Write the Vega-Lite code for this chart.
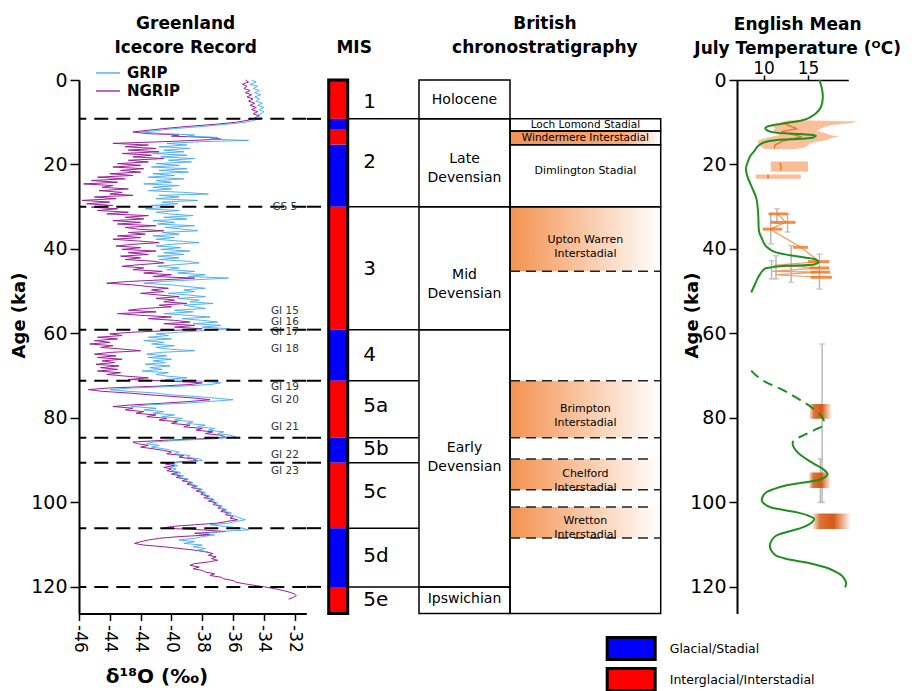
{
"$schema": "https://vega.github.io/schema/vega-lite/v6.json",
"padding": {"left": 10, "top": 15, "right": 5, "bottom": 0},
"spacing": 0,
"bounds": "flush",
"config": {
  "view": {"stroke": null},
  "font": "DejaVu Sans",
  "axis": {"domainColor": "black", "tickColor": "black", "labelColor": "black", "titleColor": "black", "grid": false, "labelFont": "DejaVu Sans", "titleFont": "DejaVu Sans"},
  "title": {"font": "DejaVu Sans", "fontWeight": "bold", "fontSize": 17, "color": "black", "lineHeight": 24}
},
"resolve": {"scale": {"color": "independent", "fill": "independent"}, "legend": {"color": "independent", "fill": "independent"}},
"datasets": {
  "grip": [
    {"age":0,"d":-34.8},{"age":0.5,"d":-34.5},{"age":1,"d":-34.9},{"age":1.5,"d":-34.4},{"age":2,"d":-34.7},{"age":2.5,"d":-34.3},{"age":3,"d":-34.6},{"age":3.5,"d":-34.2},{"age":4,"d":-34.6},{"age":4.5,"d":-34.3},{"age":5,"d":-34.5},{"age":5.5,"d":-34.1},{"age":6,"d":-34.4},{"age":6.5,"d":-34.0},{"age":7,"d":-34.3},{"age":7.5,"d":-34.0},{"age":8,"d":-34.2},{"age":8.5,"d":-34.5},{"age":9,"d":-34.1},{"age":9.5,"d":-34.6},{"age":10,"d":-35.2},{"age":10.5,"d":-36.5},{"age":11,"d":-38.0},{"age":11.5,"d":-39.8},{"age":12,"d":-41.0},{"age":12.3,"d":-42.0},{"age":12.7,"d":-40.5},{"age":13,"d":-38.5},{"age":13.3,"d":-39.0},{"age":13.6,"d":-37.0},{"age":14,"d":-37.5},{"age":14.3,"d":-35.0},{"age":14.6,"d":-38.0},{"age":15,"d":-40.3},{"age":15.4,"d":-39.0},{"age":15.8,"d":-40.8},{"age":16.2,"d":-38.8},{"age":16.6,"d":-40.5},{"age":17,"d":-39.2},{"age":17.4,"d":-41.2},{"age":17.8,"d":-39.0},{"age":18.2,"d":-40.7},{"age":18.6,"d":-38.5},{"age":19,"d":-40.2},{"age":19.4,"d":-38.7},{"age":19.8,"d":-41.0},{"age":20.2,"d":-39.5},{"age":20.6,"d":-41.3},{"age":21,"d":-39.0},{"age":21.4,"d":-40.8},{"age":21.8,"d":-38.9},{"age":22.2,"d":-41.2},{"age":22.6,"d":-39.8},{"age":23,"d":-41.5},{"age":23.4,"d":-39.2},{"age":23.8,"d":-41.0},{"age":24.2,"d":-40.0},{"age":24.6,"d":-41.8},{"age":25,"d":-39.5},{"age":25.4,"d":-41.2},{"age":25.8,"d":-40.0},{"age":26.2,"d":-41.5},{"age":26.6,"d":-39.2},{"age":27,"d":-37.6},{"age":27.3,"d":-40.8},{"age":27.7,"d":-39.5},{"age":28.1,"d":-41.0},{"age":28.5,"d":-38.3},{"age":28.9,"d":-40.6},{"age":29.3,"d":-39.6},{"age":29.7,"d":-41.3},{"age":30.1,"d":-40.0},{"age":30.5,"d":-41.7},{"age":30.9,"d":-39.5},{"age":31.3,"d":-41.0},{"age":31.7,"d":-40.2},{"age":32.1,"d":-38.6},{"age":32.5,"d":-40.5},{"age":32.9,"d":-39.0},{"age":33.3,"d":-41.2},{"age":33.7,"d":-39.8},{"age":34.1,"d":-40.9},{"age":34.5,"d":-38.5},{"age":34.9,"d":-40.4},{"age":35.3,"d":-39.3},{"age":35.7,"d":-38.3},{"age":36.1,"d":-40.6},{"age":36.5,"d":-39.5},{"age":36.9,"d":-41.2},{"age":37.3,"d":-39.8},{"age":37.7,"d":-41.0},{"age":38.1,"d":-39.6},{"age":38.5,"d":-38.2},{"age":38.9,"d":-40.0},{"age":39.3,"d":-41.0},{"age":39.7,"d":-39.4},{"age":40.1,"d":-40.7},{"age":40.5,"d":-38.8},{"age":40.9,"d":-40.5},{"age":41.3,"d":-39.2},{"age":41.7,"d":-40.9},{"age":42.1,"d":-39.5},{"age":42.5,"d":-40.8},{"age":42.9,"d":-39.0},{"age":43.3,"d":-38.2},{"age":43.7,"d":-39.6},{"age":44.1,"d":-40.9},{"age":44.5,"d":-39.5},{"age":44.9,"d":-40.3},{"age":45.3,"d":-38.5},{"age":45.7,"d":-39.6},{"age":46.1,"d":-37.8},{"age":46.5,"d":-38.9},{"age":46.9,"d":-36.3},{"age":47.3,"d":-38.5},{"age":47.7,"d":-40.6},{"age":48.1,"d":-41.8},{"age":48.5,"d":-40.0},{"age":48.9,"d":-39.0},{"age":49.3,"d":-37.8},{"age":49.7,"d":-39.2},{"age":50.1,"d":-38.5},{"age":50.5,"d":-40.2},{"age":50.9,"d":-38.9},{"age":51.3,"d":-37.8},{"age":51.7,"d":-39.6},{"age":52.1,"d":-38.2},{"age":52.5,"d":-38.8},{"age":52.9,"d":-37.3},{"age":53.3,"d":-39.2},{"age":53.7,"d":-38.5},{"age":54.1,"d":-37.8},{"age":54.5,"d":-39.8},{"age":54.9,"d":-38.6},{"age":55.3,"d":-40.5},{"age":55.7,"d":-39.0},{"age":56.1,"d":-37.5},{"age":56.5,"d":-39.3},{"age":56.9,"d":-38.0},{"age":57.3,"d":-37.0},{"age":57.7,"d":-38.6},{"age":58.1,"d":-36.8},{"age":58.5,"d":-38.0},{"age":58.9,"d":-36.2},{"age":59.3,"d":-37.8},{"age":59.7,"d":-39.5},{"age":60.1,"d":-41.0},{"age":60.5,"d":-40.2},{"age":60.9,"d":-41.5},{"age":61.3,"d":-40.0},{"age":61.7,"d":-41.8},{"age":62.1,"d":-40.5},{"age":62.5,"d":-41.3},{"age":62.9,"d":-39.8},{"age":63.3,"d":-41.0},{"age":63.7,"d":-40.2},{"age":64.1,"d":-38.5},{"age":64.5,"d":-40.8},{"age":64.9,"d":-41.6},{"age":65.3,"d":-40.3},{"age":65.7,"d":-41.5},{"age":66.1,"d":-40.0},{"age":66.5,"d":-41.2},{"age":66.9,"d":-40.4},{"age":67.3,"d":-41.7},{"age":67.7,"d":-40.1},{"age":68.1,"d":-41.4},{"age":68.5,"d":-40.6},{"age":68.9,"d":-41.9},{"age":69.3,"d":-40.2},{"age":69.7,"d":-41.0},{"age":70.1,"d":-40.3},{"age":70.5,"d":-39.0},{"age":70.9,"d":-40.4},{"age":71.3,"d":-38.0},{"age":71.7,"d":-36.8},{"age":72.1,"d":-37.5},{"age":72.5,"d":-39.5},{"age":72.9,"d":-42.5},{"age":73.3,"d":-44.0},{"age":73.7,"d":-42.8},{"age":74.1,"d":-41.0},{"age":74.5,"d":-40.2},{"age":74.9,"d":-38.5},{"age":75.3,"d":-37.2},{"age":75.7,"d":-36.0},{"age":76.1,"d":-37.5},{"age":76.5,"d":-39.0},{"age":76.9,"d":-41.5},{"age":77.3,"d":-42.6},{"age":77.7,"d":-41.0},{"age":78.1,"d":-41.8},{"age":78.5,"d":-40.5},{"age":78.9,"d":-41.2},{"age":79.3,"d":-39.8},{"age":79.7,"d":-40.6},{"age":80.1,"d":-39.3},{"age":80.5,"d":-39.8},{"age":80.9,"d":-38.6},{"age":81.3,"d":-39.0},{"age":81.7,"d":-37.8},{"age":82.1,"d":-38.3},{"age":82.5,"d":-37.2},{"age":82.9,"d":-37.6},{"age":83.3,"d":-36.6},{"age":83.7,"d":-37.0},{"age":84.1,"d":-36.2},{"age":84.5,"d":-35.8},{"age":84.9,"d":-37.0},{"age":85.3,"d":-39.5},{"age":85.7,"d":-41.2},{"age":86.1,"d":-41.6},{"age":86.5,"d":-40.8},{"age":86.9,"d":-41.3},{"age":87.3,"d":-40.5},{"age":87.7,"d":-40.0},{"age":88.1,"d":-39.5},{"age":88.5,"d":-39.8},{"age":88.9,"d":-38.8},{"age":89.3,"d":-39.0},{"age":89.7,"d":-38.2},{"age":90.1,"d":-38.0},{"age":90.5,"d":-39.5},{"age":90.9,"d":-40.0},{"age":91.3,"d":-39.6},{"age":91.7,"d":-40.1},{"age":92.1,"d":-39.7},{"age":92.5,"d":-40.0},{"age":92.9,"d":-39.4},{"age":93.3,"d":-39.8},{"age":93.7,"d":-39.2},{"age":94.1,"d":-39.5},{"age":94.5,"d":-38.9},{"age":94.9,"d":-39.1},{"age":95.3,"d":-38.6},{"age":95.7,"d":-38.8},{"age":96.1,"d":-38.3},{"age":96.5,"d":-38.5},{"age":96.9,"d":-38.0},{"age":97.3,"d":-38.2},{"age":97.7,"d":-37.8},{"age":98.1,"d":-37.9},{"age":98.5,"d":-37.5},{"age":98.9,"d":-37.7},{"age":99.3,"d":-37.2},{"age":99.7,"d":-37.4},{"age":100.1,"d":-37.0},{"age":100.5,"d":-37.1},{"age":100.9,"d":-36.7},{"age":101.3,"d":-36.9},{"age":101.7,"d":-36.4},{"age":102.1,"d":-36.6},{"age":102.5,"d":-36.1},{"age":102.9,"d":-36.3},{"age":103.3,"d":-35.8},{"age":103.7,"d":-35.6},{"age":104.1,"d":-35.2},{"age":104.5,"d":-35.8},{"age":104.9,"d":-36.3},{"age":105.3,"d":-37.5},{"age":105.7,"d":-36.5},{"age":106.1,"d":-35.4},{"age":106.5,"d":-35.0},{"age":106.9,"d":-37.0},{"age":107.3,"d":-37.8},{"age":107.7,"d":-37.2},{"age":108.1,"d":-38.0},{"age":108.5,"d":-38.5},{"age":108.9,"d":-39.5},{"age":109.3,"d":-38.5},{"age":109.7,"d":-39.2},{"age":110.1,"d":-38.0},{"age":110.5,"d":-38.6},{"age":110.9,"d":-37.8},{"age":111.3,"d":-38.3},{"age":111.7,"d":-37.6}
  ],
  "ngrip": [
    {"age":0,"d":-35.2},{"age":0.5,"d":-35.0},{"age":1,"d":-35.4},{"age":1.5,"d":-35.1},{"age":2,"d":-35.3},{"age":2.5,"d":-34.9},{"age":3,"d":-35.2},{"age":3.5,"d":-34.8},{"age":4,"d":-35.1},{"age":4.5,"d":-34.7},{"age":5,"d":-35.0},{"age":5.5,"d":-34.6},{"age":6,"d":-34.9},{"age":6.5,"d":-34.5},{"age":7,"d":-34.8},{"age":7.5,"d":-34.4},{"age":8,"d":-34.7},{"age":8.5,"d":-34.3},{"age":9,"d":-34.6},{"age":9.5,"d":-35.0},{"age":10,"d":-35.8},{"age":10.5,"d":-37.2},{"age":11,"d":-39.0},{"age":11.5,"d":-40.5},{"age":12,"d":-41.8},{"age":12.3,"d":-42.5},{"age":12.7,"d":-41.5},{"age":13,"d":-39.5},{"age":13.3,"d":-40.0},{"age":13.6,"d":-37.5},{"age":14,"d":-36.8},{"age":14.3,"d":-38.5},{"age":14.6,"d":-40.5},{"age":15,"d":-43.8},{"age":15.4,"d":-41.5},{"age":15.8,"d":-43.0},{"age":16.2,"d":-41.0},{"age":16.6,"d":-42.8},{"age":17,"d":-40.8},{"age":17.4,"d":-43.2},{"age":17.8,"d":-41.3},{"age":18.2,"d":-42.5},{"age":18.6,"d":-40.5},{"age":19,"d":-42.8},{"age":19.4,"d":-41.5},{"age":19.8,"d":-43.5},{"age":20.2,"d":-42.0},{"age":20.6,"d":-43.8},{"age":21,"d":-41.8},{"age":21.4,"d":-43.3},{"age":21.8,"d":-42.0},{"age":22.2,"d":-44.0},{"age":22.6,"d":-42.5},{"age":23,"d":-44.8},{"age":23.4,"d":-43.0},{"age":23.8,"d":-45.2},{"age":24.2,"d":-43.5},{"age":24.6,"d":-45.7},{"age":25,"d":-43.8},{"age":25.4,"d":-44.5},{"age":25.8,"d":-42.8},{"age":26.2,"d":-44.7},{"age":26.6,"d":-43.2},{"age":27,"d":-44.0},{"age":27.3,"d":-42.5},{"age":27.7,"d":-45.0},{"age":28.1,"d":-43.6},{"age":28.5,"d":-45.8},{"age":28.9,"d":-44.0},{"age":29.3,"d":-45.5},{"age":29.7,"d":-43.8},{"age":30.1,"d":-45.2},{"age":30.5,"d":-43.5},{"age":30.9,"d":-44.8},{"age":31.3,"d":-42.8},{"age":31.7,"d":-44.2},{"age":32.1,"d":-41.5},{"age":32.5,"d":-43.0},{"age":32.9,"d":-41.8},{"age":33.3,"d":-43.8},{"age":33.7,"d":-42.0},{"age":34.1,"d":-43.5},{"age":34.5,"d":-41.0},{"age":34.9,"d":-43.0},{"age":35.3,"d":-42.2},{"age":35.7,"d":-40.5},{"age":36.1,"d":-42.8},{"age":36.5,"d":-41.7},{"age":36.9,"d":-43.5},{"age":37.3,"d":-42.0},{"age":37.7,"d":-43.8},{"age":38.1,"d":-42.2},{"age":38.5,"d":-40.8},{"age":38.9,"d":-42.5},{"age":39.3,"d":-43.6},{"age":39.7,"d":-42.0},{"age":40.1,"d":-43.2},{"age":40.5,"d":-41.0},{"age":40.9,"d":-42.8},{"age":41.3,"d":-41.5},{"age":41.7,"d":-43.3},{"age":42.1,"d":-42.0},{"age":42.5,"d":-43.0},{"age":42.9,"d":-41.2},{"age":43.3,"d":-40.5},{"age":43.7,"d":-42.0},{"age":44.1,"d":-43.2},{"age":44.5,"d":-41.8},{"age":44.9,"d":-42.5},{"age":45.3,"d":-40.6},{"age":45.7,"d":-41.8},{"age":46.1,"d":-40.0},{"age":46.5,"d":-41.2},{"age":46.9,"d":-38.5},{"age":47.3,"d":-40.5},{"age":47.7,"d":-42.8},{"age":48.1,"d":-44.2},{"age":48.5,"d":-42.5},{"age":48.9,"d":-41.5},{"age":49.3,"d":-40.2},{"age":49.7,"d":-41.3},{"age":50.1,"d":-40.5},{"age":50.5,"d":-42.0},{"age":50.9,"d":-40.8},{"age":51.3,"d":-39.5},{"age":51.7,"d":-41.0},{"age":52.1,"d":-39.8},{"age":52.5,"d":-40.5},{"age":52.9,"d":-39.0},{"age":53.3,"d":-40.8},{"age":53.7,"d":-40.0},{"age":54.1,"d":-41.8},{"age":54.5,"d":-42.8},{"age":54.9,"d":-41.0},{"age":55.3,"d":-43.5},{"age":55.7,"d":-42.0},{"age":56.1,"d":-40.0},{"age":56.5,"d":-41.5},{"age":56.9,"d":-39.8},{"age":57.3,"d":-38.8},{"age":57.7,"d":-40.5},{"age":58.1,"d":-38.5},{"age":58.5,"d":-39.8},{"age":58.9,"d":-38.0},{"age":59.3,"d":-40.0},{"age":59.7,"d":-42.5},{"age":60.1,"d":-44.0},{"age":60.5,"d":-43.2},{"age":60.9,"d":-44.8},{"age":61.3,"d":-43.5},{"age":61.7,"d":-45.0},{"age":62.1,"d":-44.0},{"age":62.5,"d":-45.3},{"age":62.9,"d":-43.8},{"age":63.3,"d":-44.6},{"age":63.7,"d":-43.2},{"age":64.1,"d":-42.0},{"age":64.5,"d":-44.0},{"age":64.9,"d":-45.0},{"age":65.3,"d":-43.6},{"age":65.7,"d":-44.8},{"age":66.1,"d":-43.2},{"age":66.5,"d":-44.5},{"age":66.9,"d":-43.7},{"age":67.3,"d":-44.9},{"age":67.7,"d":-43.4},{"age":68.1,"d":-44.6},{"age":68.5,"d":-43.5},{"age":68.9,"d":-44.8},{"age":69.3,"d":-43.3},{"age":69.7,"d":-44.2},{"age":70.1,"d":-43.0},{"age":70.5,"d":-41.5},{"age":70.9,"d":-42.8},{"age":71.3,"d":-40.0},{"age":71.7,"d":-38.0},{"age":72.1,"d":-38.8},{"age":72.5,"d":-41.0},{"age":72.9,"d":-44.0},{"age":73.3,"d":-45.4},{"age":73.7,"d":-44.5},{"age":74.1,"d":-42.8},{"age":74.5,"d":-41.5},{"age":74.9,"d":-40.0},{"age":75.3,"d":-38.5},{"age":75.7,"d":-37.5},{"age":76.1,"d":-38.8},{"age":76.5,"d":-40.5},{"age":76.9,"d":-42.5},{"age":77.3,"d":-43.8},{"age":77.7,"d":-42.5},{"age":78.1,"d":-43.0},{"age":78.5,"d":-41.8},{"age":78.9,"d":-42.3},{"age":79.3,"d":-41.0},{"age":79.7,"d":-41.6},{"age":80.1,"d":-40.3},{"age":80.5,"d":-40.8},{"age":80.9,"d":-39.6},{"age":81.3,"d":-40.0},{"age":81.7,"d":-38.8},{"age":82.1,"d":-39.2},{"age":82.5,"d":-38.0},{"age":82.9,"d":-38.4},{"age":83.3,"d":-37.3},{"age":83.7,"d":-37.8},{"age":84.1,"d":-36.8},{"age":84.5,"d":-36.5},{"age":84.9,"d":-37.8},{"age":85.3,"d":-40.5},{"age":85.7,"d":-42.5},{"age":86.1,"d":-42.2},{"age":86.5,"d":-41.5},{"age":86.9,"d":-42.0},{"age":87.3,"d":-41.2},{"age":87.7,"d":-40.5},{"age":88.1,"d":-40.0},{"age":88.5,"d":-40.3},{"age":88.9,"d":-39.2},{"age":89.3,"d":-39.5},{"age":89.7,"d":-38.6},{"age":90.1,"d":-38.3},{"age":90.5,"d":-39.8},{"age":90.9,"d":-40.4},{"age":91.3,"d":-39.8},{"age":91.7,"d":-40.5},{"age":92.1,"d":-40.0},{"age":92.5,"d":-40.3},{"age":92.9,"d":-39.6},{"age":93.3,"d":-40.0},{"age":93.7,"d":-39.4},{"age":94.1,"d":-39.7},{"age":94.5,"d":-39.0},{"age":94.9,"d":-39.3},{"age":95.3,"d":-38.7},{"age":95.7,"d":-39.0},{"age":96.1,"d":-38.4},{"age":96.5,"d":-38.7},{"age":96.9,"d":-38.1},{"age":97.3,"d":-38.4},{"age":97.7,"d":-37.9},{"age":98.1,"d":-38.1},{"age":98.5,"d":-37.6},{"age":98.9,"d":-37.9},{"age":99.3,"d":-37.3},{"age":99.7,"d":-37.6},{"age":100.1,"d":-37.1},{"age":100.5,"d":-37.3},{"age":100.9,"d":-36.8},{"age":101.3,"d":-37.0},{"age":101.7,"d":-36.5},{"age":102.1,"d":-36.8},{"age":102.5,"d":-36.3},{"age":102.9,"d":-36.5},{"age":103.3,"d":-36.0},{"age":103.7,"d":-36.2},{"age":104.1,"d":-35.7},{"age":104.5,"d":-36.4},{"age":104.9,"d":-37.0},{"age":105.3,"d":-38.5},{"age":105.7,"d":-40.0},{"age":106.1,"d":-40.5},{"age":106.5,"d":-38.0},{"age":106.9,"d":-36.5},{"age":107.3,"d":-38.5},{"age":107.7,"d":-37.5},{"age":108.1,"d":-39.5},{"age":108.5,"d":-40.8},{"age":108.9,"d":-41.5},{"age":109.3,"d":-42.0},{"age":109.7,"d":-42.4},{"age":110.1,"d":-41.8},{"age":110.5,"d":-40.5},{"age":110.9,"d":-39.5},{"age":111.3,"d":-38.5},{"age":111.7,"d":-37.8},{"age":112.1,"d":-37.3},{"age":112.5,"d":-37.6},{"age":112.9,"d":-37.1},{"age":113.3,"d":-37.4},{"age":113.7,"d":-37.0},{"age":114.1,"d":-37.6},{"age":114.5,"d":-38.5},{"age":114.9,"d":-38.8},{"age":115.3,"d":-38.2},{"age":115.7,"d":-38.6},{"age":116.1,"d":-38.0},{"age":116.5,"d":-37.8},{"age":116.9,"d":-37.2},{"age":117.3,"d":-37.5},{"age":117.7,"d":-36.8},{"age":118.1,"d":-36.6},{"age":118.5,"d":-36.0},{"age":118.9,"d":-35.8},{"age":119.3,"d":-35.2},{"age":119.7,"d":-34.5},{"age":120.1,"d":-33.8},{"age":120.5,"d":-33.2},{"age":120.9,"d":-32.7},{"age":121.3,"d":-32.3},{"age":121.7,"d":-32.0},{"age":122.1,"d":-31.9},{"age":122.5,"d":-32.1},{"age":122.9,"d":-32.4}
  ],
  "bounds": [{"age":9.2},{"age":30},{"age":59.1},{"age":71.2},{"age":84.7},{"age":90.6},{"age":106.1},{"age":120}],
  "glabels": [{"age":30.06,"label":"GS 5"},{"age":54.8,"label":"GI 15"},{"age":57.3,"label":"GI 16"},{"age":59.7,"label":"GI 17"},{"age":63.7,"label":"GI 18"},{"age":72.6,"label":"GI 19"},{"age":75.7,"label":"GI 20"},{"age":82.1,"label":"GI 21"},{"age":88.8,"label":"GI 22"},{"age":92.5,"label":"GI 23"}],
  "mis": [
    {"a1":0,"a2":9.2,"type":"Interglacial/Interstadial"},
    {"a1":9.2,"a2":11.6,"type":"Glacial/Stadial"},
    {"a1":11.6,"a2":15.3,"type":"Interglacial/Interstadial"},
    {"a1":15.3,"a2":30,"type":"Glacial/Stadial"},
    {"a1":30,"a2":59.1,"type":"Interglacial/Interstadial"},
    {"a1":59.1,"a2":71.2,"type":"Glacial/Stadial"},
    {"a1":71.2,"a2":84.7,"type":"Interglacial/Interstadial"},
    {"a1":84.7,"a2":90.6,"type":"Glacial/Stadial"},
    {"a1":90.6,"a2":106.1,"type":"Interglacial/Interstadial"},
    {"a1":106.1,"a2":120,"type":"Glacial/Stadial"},
    {"a1":120,"a2":126.3,"type":"Interglacial/Interstadial"}
  ],
  "frame": [{"a1":0,"a2":126.3}],
  "mislab": [{"age":5.3,"label":"1"},{"age":19.5,"label":"2"},{"age":44.7,"label":"3"},{"age":65.2,"label":"4"},{"age":77.2,"label":"5a"},{"age":87.3,"label":"5b"},{"age":97.6,"label":"5c"},{"age":112.7,"label":"5d"},{"age":123.1,"label":"5e"}],
  "col1": [{"a1":0,"a2":9.2},{"a1":9.2,"a2":30},{"a1":30,"a2":59.1},{"a1":59.1,"a2":120},{"a1":120,"a2":126.3}],
  "col2": [{"a1":9.2,"a2":12.1},{"a1":12.1,"a2":15.3},{"a1":15.3,"a2":30},{"a1":30,"a2":126.3}],
  "col1lab": [{"age":4.7,"label":"Holocene"},{"age":18.7,"label":"Late\nDevensian"},{"age":46.1,"label":"Mid\nDevensian"},{"age":87.2,"label":"Early\nDevensian"},{"age":122.8,"label":"Ipswichian"}],
  "col2sm": [{"age":10.65,"label":"Loch Lomond Stadial"},{"age":13.7,"label":"Windermere Interstadial"}],
  "col2lab": [{"age":21.6,"label":"Dimlington Stadial"},{"age":37.8,"label":"Upton Warren\nInterstadial"},{"age":78.0,"label":"Brimpton\nInterstadial"},{"age":93.3,"label":"Chelford\nInterstadial"},{"age":104.4,"label":"Wretton\nInterstadial"}],
  "wind": [{"a1":12.1,"a2":15.3}],
  "inter": [{"a1":30,"a2":45.3},{"a1":71.2,"a2":84.7},{"a1":89.7,"a2":97.0},{"a1":101.1,"a2":108.4}],
  "dashA": [{"age":45.3},{"age":71.2},{"age":84.7},{"age":97.0},{"age":108.4}],
  "dashB": [{"age":89.7},{"age":101.1}],
  "peach": [
    {"age":9.5,"lo":13.0,"hi":14.0},{"age":9.8,"lo":12.2,"hi":20.6},{"age":10.2,"lo":11.8,"hi":20.0},{"age":10.6,"lo":11.5,"hi":18.0},{"age":11.0,"lo":11.0,"hi":17.0},{"age":11.5,"lo":11.3,"hi":16.5},{"age":12.0,"lo":11.0,"hi":16.0},{"age":12.5,"lo":11.2,"hi":16.8},{"age":13.0,"lo":11.8,"hi":17.5},{"age":13.4,"lo":11.0,"hi":18.5},{"age":13.8,"lo":10.2,"hi":17.6},{"age":14.2,"lo":9.5,"hi":17.2},{"age":14.6,"lo":9.3,"hi":16.0},{"age":15.0,"lo":9.4,"hi":15.3},{"age":15.5,"lo":9.6,"hi":15.0},{"age":16.0,"lo":9.8,"hi":14.6},{"age":16.4,"lo":10.2,"hi":13.5}
  ],
  "peachRect": [{"a1":19.3,"a2":21.7,"lo":10.8,"hi":15.0},{"a1":22.4,"a2":23.4,"lo":9.1,"hi":14.2}],
  "darkline": [
    {"g":"a","age":10.0,"T":12.3},{"g":"a","age":10.8,"T":12.8},{"g":"a","age":11.5,"T":13.8},{"g":"a","age":12.2,"T":12.0},{"g":"a","age":12.8,"T":13.0},{"g":"a","age":13.4,"T":14.3},{"g":"a","age":14.0,"T":13.0},{"g":"a","age":14.6,"T":12.0},{"g":"a","age":15.4,"T":11.3},{"g":"a","age":16.2,"T":11.2},
    {"g":"b","age":19.6,"T":11.8},{"g":"b","age":20.5,"T":12.0},{"g":"b","age":21.4,"T":11.9},
    {"g":"c","age":22.4,"T":10.5},{"g":"c","age":23.4,"T":10.5}
  ],
  "ebar": [
    {"T":11.5,"a1":30.5,"a2":33.9},{"T":12.7,"a1":31.7,"a2":36.0},{"T":10.8,"a1":31.7,"a2":38.8},{"T":11.4,"a1":41.6,"a2":47.1},{"T":10.9,"a1":42.8,"a2":47.1},{"T":13.1,"a1":39.2,"a2":47.9},{"T":16.3,"a1":41.2,"a2":49.5},{"T":16.6,"a1":62.5,"a2":100.0},{"T":16.4,"a1":89.7,"a2":100.0}
  ],
  "tpts": [
    {"age":31.7,"T":11.6},{"age":33.7,"T":12.5},{"age":35.3,"T":10.7},{"age":39.6,"T":14.2},{"age":43.0,"T":16.3},{"age":43.9,"T":11.2},{"age":44.5,"T":16.3},{"age":45.3,"T":11.0},{"age":45.5,"T":16.4},{"age":46.1,"T":11.3},{"age":46.7,"T":16.5}
  ],
  "tbars": [
    {"age":31.7,"lo":10.6,"hi":12.7},{"age":33.7,"lo":10.8,"hi":13.6},{"age":35.3,"lo":9.9,"hi":12.1},{"age":39.6,"lo":13.3,"hi":15.0},{"age":43.0,"lo":15.0,"hi":17.4},{"age":44.5,"lo":15.2,"hi":17.4},{"age":45.5,"lo":15.3,"hi":17.5},{"age":46.7,"lo":15.3,"hi":17.7}
  ],
  "blob": [{"a1":76.7,"a2":80.2,"lo":15.15,"hi":17.7},{"a1":92.9,"a2":96.6,"lo":15.1,"hi":17.6},{"a1":102.6,"a2":106.3,"lo":15.5,"hi":19.85}],
  "green": [
    {"seg":"A","age":0,"T":16.3},{"seg":"A","age":3,"T":16.65},{"seg":"A","age":5.5,"T":16.6},{"seg":"A","age":7,"T":16.3},{"seg":"A","age":8.8,"T":15.3},{"seg":"A","age":9.6,"T":14.3},{"seg":"A","age":10.0,"T":13.1},{"seg":"A","age":10.5,"T":11.6},{"seg":"A","age":10.9,"T":10.6},{"seg":"A","age":11.3,"T":10.2},{"seg":"A","age":11.8,"T":10.3},{"seg":"A","age":12.4,"T":11.1},{"seg":"A","age":12.8,"T":14.2},{"seg":"A","age":13.2,"T":15.9},{"seg":"A","age":13.6,"T":15.6},{"seg":"A","age":13.9,"T":14.3},{"seg":"A","age":14.2,"T":11.5},{"seg":"A","age":14.6,"T":10.3},{"seg":"A","age":15.1,"T":9.7},{"seg":"A","age":16.0,"T":9.2},{"seg":"A","age":16.7,"T":9.0},{"seg":"A","age":18,"T":8.5},{"seg":"A","age":19.5,"T":8.2},{"seg":"A","age":21,"T":8.0},{"seg":"A","age":23,"T":8.2},{"seg":"A","age":25,"T":8.6},{"seg":"A","age":28.2,"T":9.2},{"seg":"A","age":32.1,"T":9.4},{"seg":"A","age":36,"T":9.5},{"seg":"A","age":37.5,"T":9.8},{"seg":"A","age":39.2,"T":10.2},{"seg":"A","age":40.2,"T":10.8},{"seg":"A","age":40.8,"T":11.4},{"seg":"A","age":41.5,"T":13.0},{"seg":"A","age":42,"T":14.6},{"seg":"A","age":42.5,"T":15.9},{"seg":"A","age":43.1,"T":16.2},{"seg":"A","age":43.6,"T":15.8},{"seg":"A","age":44.0,"T":12.5},{"seg":"A","age":44.3,"T":11.0},{"seg":"A","age":44.7,"T":10.1},{"seg":"A","age":46.3,"T":9.5},{"seg":"A","age":48.7,"T":8.95},{"seg":"A","age":50.3,"T":8.6},
    {"seg":"B","age":68.8,"T":8.6},{"seg":"B","age":70,"T":9.2},{"seg":"B","age":71.6,"T":10.3},{"seg":"B","age":73,"T":11.8},{"seg":"B","age":74.7,"T":13.3},{"seg":"B","age":76,"T":14.3},{"seg":"B","age":77.1,"T":15.15},{"seg":"B","age":78.5,"T":16.0},{"seg":"B","age":79.5,"T":16.5},{"seg":"B","age":80.7,"T":16.8},{"seg":"B","age":81.8,"T":16.7},{"seg":"B","age":82.6,"T":16.0},{"seg":"B","age":83.4,"T":15.2},{"seg":"B","age":84.4,"T":14.2},{"seg":"B","age":85.4,"T":13.3},
    {"seg":"C","age":85.4,"T":13.3},{"seg":"C","age":86.5,"T":13.3},{"seg":"C","age":87.3,"T":13.5},{"seg":"C","age":88.5,"T":14.0},{"seg":"C","age":89.7,"T":14.8},{"seg":"C","age":91,"T":15.8},{"seg":"C","age":92.1,"T":16.7},{"seg":"C","age":93.3,"T":17.2},{"seg":"C","age":94.4,"T":16.6},{"seg":"C","age":95.3,"T":14.5},{"seg":"C","age":96,"T":12.5},{"seg":"C","age":96.8,"T":11.2},{"seg":"C","age":97.6,"T":10.3},{"seg":"C","age":98.6,"T":9.9},{"seg":"C","age":99.6,"T":9.8},{"seg":"C","age":100.4,"T":10.1},{"seg":"C","age":101.1,"T":10.7},{"seg":"C","age":101.7,"T":12.0},{"seg":"C","age":102.3,"T":13.65},{"seg":"C","age":103.1,"T":15.0},{"seg":"C","age":103.9,"T":15.7},{"seg":"C","age":104.8,"T":15.4},{"seg":"C","age":105.9,"T":14.4},{"seg":"C","age":106.9,"T":12.8},{"seg":"C","age":107.9,"T":11.4},{"seg":"C","age":109,"T":10.9},{"seg":"C","age":110.3,"T":10.7},{"seg":"C","age":111.5,"T":10.9},{"seg":"C","age":112.6,"T":11.4},{"seg":"C","age":113.2,"T":12.3},{"seg":"C","age":113.8,"T":13.65},{"seg":"C","age":114.4,"T":15.2},{"seg":"C","age":115,"T":16.3},{"seg":"C","age":115.7,"T":17.4},{"seg":"C","age":116.5,"T":18.2},{"seg":"C","age":117.3,"T":18.8},{"seg":"C","age":118.1,"T":19.1},{"seg":"C","age":119,"T":19.3},{"seg":"C","age":120.1,"T":19.2}
  ]
},
"hconcat": [
  {
    "width": 227.3, "height": 533.5,
    "title": {"text": ["Greenland", "Icecore Record"], "dx": -7, "offset": 7},
    "layer": [
      {
        "data": {"name": "ngrip"},
        "mark": {"type": "line", "strokeWidth": 1},
        "encoding": {
          "y": {"field": "age", "type": "quantitative", "scale": {"domain": [0, 126.3], "reverse": true, "nice": false, "zero": false},
                "axis": {"values": [0, 20, 40, 60, 80, 100, 120], "tickCount": 20, "title": "Age (ka)", "titleFontSize": 18, "titleFontWeight": "bold", "titleAngle": 270, "titleX": -60, "titleY": 235, "titleAlign": "center", "titleBaseline": "middle", "labelFontSize": 19, "tickSize": 9, "labelPadding": 3, "domainWidth": 2, "tickWidth": 1.5}},
          "x": {"field": "d", "type": "quantitative", "scale": {"domain": [-46, -31.25], "nice": false, "zero": false},
                "axis": {"values": [-46, -44, -42, -40, -38, -36, -34, -32], "tickCount": 20, "labelExpr": "datum.value == -42 ? '-44' : '' + datum.value", "labelOverlap": false, "labelFlush": false, "labelAngle": 90, "labelAlign": "left", "labelBaseline": "middle", "labelFontSize": 17, "tickSize": 7, "labelPadding": 4, "title": "δ¹⁸O (‰)", "titleFontSize": 20, "titleFontWeight": "bold", "titleX": 77.5, "titleY": 63, "titleAlign": "center", "titleBaseline": "middle", "domainWidth": 2, "tickWidth": 1.5}},
          "order": {"field": "age", "type": "quantitative"},
          "color": {"datum": "NGRIP", "type": "nominal", "scale": {"domain": ["GRIP", "NGRIP"], "range": ["#45a8f2", "#9b1f9b"]},
                    "legend": {"title": null, "orient": "none", "legendX": 20, "legendY": -16, "symbolType": "M-1.5,0H1.5", "symbolSize": 256, "symbolStrokeWidth": 1.5, "labelFontSize": 15, "labelFontWeight": "bold", "labelFont": "DejaVu Sans", "labelOffset": 10, "rowPadding": 1, "padding": 0}}
        }
      },
      {
        "data": {"name": "grip"},
        "mark": {"type": "line", "strokeWidth": 1, "opacity": 0.9},
        "encoding": {
          "y": {"field": "age", "type": "quantitative"},
          "x": {"field": "d", "type": "quantitative"},
          "order": {"field": "age", "type": "quantitative"},
          "color": {"datum": "GRIP", "type": "nominal"}
        }
      },
      {
        "data": {"name": "bounds"},
        "mark": {"type": "rule", "strokeDash": [14, 8], "strokeWidth": 2, "color": "black"},
        "encoding": {"y": {"field": "age", "type": "quantitative"}}
      },
      {
        "data": {"name": "glabels"},
        "mark": {"type": "text", "fontSize": 10.5, "color": "#333333", "align": "center", "baseline": "middle"},
        "encoding": {
          "y": {"field": "age", "type": "quantitative"},
          "x": {"datum": -32.64, "type": "quantitative"},
          "text": {"field": "label", "type": "nominal"}
        }
      }
    ]
  },
  {
    "width": 111.7, "height": 533.5,
    "title": {"text": "MIS", "dx": -8.7, "offset": 22},
    "layer": [
      {
        "data": {"name": "bounds"},
        "mark": {"type": "rule", "strokeDash": [14, 8], "strokeWidth": 2, "color": "black"},
        "encoding": {
          "y": {"field": "age", "type": "quantitative", "scale": {"domain": [0, 126.3], "reverse": true, "nice": false, "zero": false}, "axis": null},
          "x": {"datum": 0, "type": "quantitative", "scale": {"domain": [0, 111.7], "nice": false, "zero": false}, "axis": null},
          "x2": {"datum": 21.7}
        }
      },
      {
        "data": {"name": "bounds"},
        "mark": {"type": "rule", "strokeWidth": 1.5, "color": "black"},
        "encoding": {
          "y": {"field": "age", "type": "quantitative", "axis": null},
          "x": {"datum": 40.7, "type": "quantitative", "axis": null},
          "x2": {"datum": 111.7}
        }
      },
      {
        "data": {"name": "mis"},
        "mark": {"type": "rect"},
        "encoding": {
          "y": {"field": "a1", "type": "quantitative", "axis": null},
          "y2": {"field": "a2"},
          "x": {"datum": 21.7, "type": "quantitative", "axis": null},
          "x2": {"datum": 40.7},
          "fill": {"field": "type", "type": "nominal", "scale": {"domain": ["Glacial/Stadial", "Interglacial/Interstadial"], "range": ["#0000ff", "#ff0000"]},
                   "legend": {"title": null, "orient": "none", "legendX": 310.7, "legendY": 555, "symbolType": "M-2,-0.92H2V0.92H-2Z", "symbolSize": 576, "symbolStrokeColor": "black", "symbolStrokeWidth": 3, "labelFontSize": 12.5, "labelFont": "DejaVu Sans", "labelOffset": 25, "rowPadding": -4, "padding": 0,
                              "encode": {"symbols": {"update": {"stroke": {"value": "black"}, "strokeWidth": {"value": 3}}}}}}
        }
      },
      {
        "data": {"name": "frame"},
        "mark": {"type": "rect", "filled": false, "color": "black", "strokeWidth": 3},
        "encoding": {
          "y": {"field": "a1", "type": "quantitative", "axis": null},
          "y2": {"field": "a2"},
          "x": {"datum": 21.7, "type": "quantitative", "axis": null},
          "x2": {"datum": 40.7}
        }
      },
      {
        "data": {"name": "mislab"},
        "mark": {"type": "text", "align": "left", "baseline": "middle", "fontSize": 20, "color": "black"},
        "encoding": {
          "y": {"field": "age", "type": "quantitative", "axis": null},
          "x": {"datum": 56.2, "type": "quantitative", "axis": null},
          "text": {"field": "label", "type": "nominal"}
        }
      }
    ]
  },
  {
    "width": 317.7, "height": 533.5,
    "title": {"text": ["British", "chronostratigraphy"], "dx": -33, "offset": 22},
    "layer": [
      {
        "data": {"name": "wind"},
        "mark": {"type": "rect", "fill": {"gradient": "linear", "x1": 0, "y1": 0, "x2": 1, "y2": 0, "stops": [{"offset": 0, "color": "#f4935a"}, {"offset": 0.75, "color": "#f7a877"}, {"offset": 1, "color": "#ffffff"}]}},
        "encoding": {
          "y": {"field": "a1", "type": "quantitative", "scale": {"domain": [0, 126.3], "reverse": true, "nice": false, "zero": false}, "axis": null},
          "y2": {"field": "a2"},
          "x": {"datum": 91, "type": "quantitative", "scale": {"domain": [0, 317.7], "nice": false, "zero": false}, "axis": null},
          "x2": {"datum": 241.7}
        }
      },
      {
        "data": {"name": "inter"},
        "mark": {"type": "rect", "fill": {"gradient": "linear", "x1": 0, "y1": 0, "x2": 1, "y2": 0, "stops": [{"offset": 0, "color": "#f4924f"}, {"offset": 1, "color": "#ffffff"}]}},
        "encoding": {
          "y": {"field": "a1", "type": "quantitative", "axis": null},
          "y2": {"field": "a2"},
          "x": {"datum": 91, "type": "quantitative", "axis": null},
          "x2": {"datum": 241.7}
        }
      },
      {
        "data": {"name": "col1"},
        "mark": {"type": "rect", "filled": false, "color": "black", "strokeWidth": 1.5},
        "encoding": {
          "y": {"field": "a1", "type": "quantitative", "axis": null},
          "y2": {"field": "a2"},
          "x": {"datum": 0, "type": "quantitative", "axis": null},
          "x2": {"datum": 91}
        }
      },
      {
        "data": {"name": "col2"},
        "mark": {"type": "rect", "filled": false, "color": "black", "strokeWidth": 1.5},
        "encoding": {
          "y": {"field": "a1", "type": "quantitative", "axis": null},
          "y2": {"field": "a2"},
          "x": {"datum": 91, "type": "quantitative", "axis": null},
          "x2": {"datum": 241.7}
        }
      },
      {
        "data": {"name": "dashA"},
        "mark": {"type": "rule", "strokeDash": [10, 6], "strokeWidth": 1.5, "color": "#222222"},
        "encoding": {
          "y": {"field": "age", "type": "quantitative", "axis": null},
          "x": {"datum": 91, "type": "quantitative", "axis": null},
          "x2": {"datum": 241.7}
        }
      },
      {
        "data": {"name": "dashB"},
        "mark": {"type": "rule", "strokeDash": [10, 6], "strokeWidth": 1.5, "color": "#222222"},
        "encoding": {
          "y": {"field": "age", "type": "quantitative", "axis": null},
          "x": {"datum": 91, "type": "quantitative", "axis": null},
          "x2": {"datum": 235}
        }
      },
      {
        "data": {"name": "col1lab"},
        "mark": {"type": "text", "align": "center", "baseline": "middle", "fontSize": 14, "lineBreak": "\n", "lineHeight": 19, "color": "black"},
        "encoding": {
          "y": {"field": "age", "type": "quantitative", "axis": null},
          "x": {"datum": 45.5, "type": "quantitative", "axis": null},
          "text": {"field": "label", "type": "nominal"}
        }
      },
      {
        "data": {"name": "col2sm"},
        "mark": {"type": "text", "align": "center", "baseline": "middle", "fontSize": 10.5, "color": "black"},
        "encoding": {
          "y": {"field": "age", "type": "quantitative", "axis": null},
          "x": {"datum": 166.4, "type": "quantitative", "axis": null},
          "text": {"field": "label", "type": "nominal"}
        }
      },
      {
        "data": {"name": "col2lab"},
        "mark": {"type": "text", "align": "center", "baseline": "middle", "fontSize": 11, "lineBreak": "\n", "lineHeight": 14, "color": "black"},
        "encoding": {
          "y": {"field": "age", "type": "quantitative", "axis": null},
          "x": {"datum": 166.4, "type": "quantitative", "axis": null},
          "text": {"field": "label", "type": "nominal"}
        }
      }
    ]
  },
  {
    "width": 111.3, "height": 533.5,
    "title": {"text": ["English Mean", "July Temperature (ᴼC)"], "dx": 5, "offset": 1},
    "layer": [
      {
        "data": {"name": "peach"},
        "mark": {"type": "area", "orient": "horizontal", "color": "#fbbd96", "opacity": 0.95},
        "encoding": {
          "y": {"field": "age", "type": "quantitative", "scale": {"domain": [0, 126.3], "reverse": true, "nice": false, "zero": false},
                "axis": {"values": [0, 20, 40, 60, 80, 100, 120], "tickCount": 20, "title": "Age (ka)", "titleFontSize": 18, "titleFontWeight": "bold", "titleAngle": 270, "titleX": -44.7, "titleY": 235, "titleAlign": "center", "titleBaseline": "middle", "labelFontSize": 19, "tickSize": 8, "labelPadding": 3, "domainWidth": 2, "tickWidth": 1.5}},
          "x": {"field": "lo", "type": "quantitative", "scale": {"domain": [7, 19.55], "nice": false, "zero": false},
                "axis": {"orient": "top", "values": [10, 15], "tickCount": 10, "title": null, "labelFontSize": 17, "labelBaseline": "alphabetic", "tickSize": 5, "labelPadding": 2, "domainWidth": 1.5, "tickWidth": 1.5}},
          "x2": {"field": "hi"}
        }
      },
      {
        "data": {"name": "peachRect"},
        "mark": {"type": "rect", "color": "#fbbd96"},
        "encoding": {
          "y": {"field": "a1", "type": "quantitative"},
          "y2": {"field": "a2"},
          "x": {"field": "lo", "type": "quantitative"},
          "x2": {"field": "hi"}
        }
      },
      {
        "data": {"name": "darkline"},
        "mark": {"type": "line", "color": "#e8701f", "strokeWidth": 1.3},
        "encoding": {
          "y": {"field": "age", "type": "quantitative"},
          "x": {"field": "T", "type": "quantitative"},
          "detail": {"field": "g", "type": "nominal"},
          "order": {"field": "age", "type": "quantitative"}
        }
      },
      {
        "data": {"name": "ebar"},
        "mark": {"type": "rule", "color": "#b8b8b8", "strokeWidth": 1.5},
        "encoding": {
          "y": {"field": "a1", "type": "quantitative"},
          "y2": {"field": "a2"},
          "x": {"field": "T", "type": "quantitative"}
        }
      },
      {
        "data": {"name": "ebar"},
        "mark": {"type": "tick", "orient": "horizontal", "size": 6, "thickness": 1.5, "color": "#b8b8b8"},
        "encoding": {
          "y": {"field": "a1", "type": "quantitative"},
          "x": {"field": "T", "type": "quantitative"}
        }
      },
      {
        "data": {"name": "ebar"},
        "mark": {"type": "tick", "orient": "horizontal", "size": 6, "thickness": 1.5, "color": "#b8b8b8"},
        "encoding": {
          "y": {"field": "a2", "type": "quantitative"},
          "x": {"field": "T", "type": "quantitative"}
        }
      },
      {
        "data": {"name": "tpts"},
        "mark": {"type": "line", "color": "#f29a60", "strokeWidth": 1.2},
        "encoding": {
          "y": {"field": "age", "type": "quantitative"},
          "x": {"field": "T", "type": "quantitative"},
          "order": {"field": "age", "type": "quantitative"}
        }
      },
      {
        "data": {"name": "tbars"},
        "mark": {"type": "rule", "color": "#f07a25", "strokeWidth": 3, "opacity": 0.85},
        "encoding": {
          "y": {"field": "age", "type": "quantitative"},
          "x": {"field": "lo", "type": "quantitative"},
          "x2": {"field": "hi"}
        }
      },
      {
        "data": {"name": "blob"},
        "mark": {"type": "rect", "fill": {"gradient": "linear", "x1": 0, "y1": 0, "x2": 1, "y2": 0, "stops": [{"offset": 0, "color": "rgba(214,90,20,0.1)"}, {"offset": 0.2, "color": "rgba(214,90,20,0.85)"}, {"offset": 0.55, "color": "#d65a14"}, {"offset": 1, "color": "rgba(214,90,20,0)"}]}},
        "encoding": {
          "y": {"field": "a1", "type": "quantitative"},
          "y2": {"field": "a2"},
          "x": {"field": "lo", "type": "quantitative"},
          "x2": {"field": "hi"}
        }
      },
      {
        "data": {"name": "green"},
        "transform": [{"filter": "datum.seg != 'B'"}],
        "mark": {"type": "line", "color": "#1f8f1f", "strokeWidth": 2, "interpolate": "catmull-rom"},
        "encoding": {
          "y": {"field": "age", "type": "quantitative"},
          "x": {"field": "T", "type": "quantitative"},
          "detail": {"field": "seg", "type": "nominal"},
          "order": {"field": "age", "type": "quantitative"}
        }
      },
      {
        "data": {"name": "green"},
        "transform": [{"filter": "datum.seg == 'B'"}],
        "mark": {"type": "line", "color": "#1f8f1f", "strokeWidth": 2, "strokeDash": [10, 6], "interpolate": "catmull-rom"},
        "encoding": {
          "y": {"field": "age", "type": "quantitative"},
          "x": {"field": "T", "type": "quantitative"},
          "order": {"field": "age", "type": "quantitative"}
        }
      }
    ]
  }
]
}
